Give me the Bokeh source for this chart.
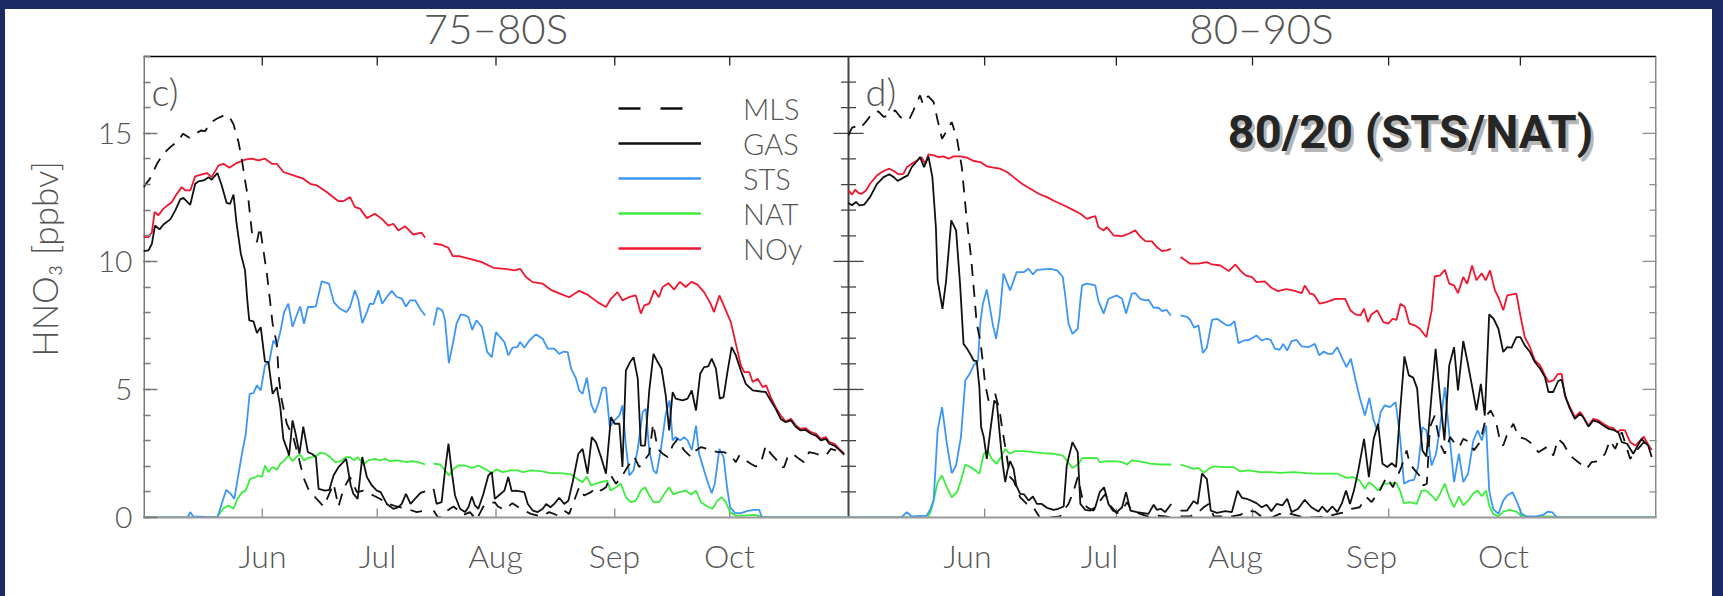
import math
import numpy as np
from bokeh.plotting import figure
from bokeh.models import (Range1d, LinearAxis, FixedTicker, SingleIntervalTicker,
                          Label, Legend, LegendItem, InlineStyleSheet)
from bokeh.layouts import row
from bokeh.embed import file_html
from bokeh.resources import INLINE

NAN = float("nan")

# ---------------- data ----------------
MONTH_DAYS = [31, 61, 92, 123, 153]          # days since 1 May
MONTH_LABELS = ["Jun", "Jul", "Aug", "Sep", "Oct"]
PANEL_TITLES = ["75–80S", "80–90S"]
PANEL_TAGS = ["c)", "d)"]
SERIES = ["MLS", "GAS", "STS", "NAT", "NOy"]
Y_LABEL = "HNO₃ [ppbv]"
NOTE = "80/20 (STS/NAT)"

# ---- left panel (75-80S)
L_NOY_D = [0, 1.3, 2.2, 2.9, 3.9, 5.2, 7.4, 8.7, 10, 10.9, 12.2, 13.5, 14.8, 16.5, 17.8, 19.6, 20.9, 22.4, 24.3, 26.5, 28.3, 30, 31.7, 33.5, 34.8, 36.5, 39.1, 41.7, 43.5, 45.2, 47.8, 50.9, 52.2, 53.9, 55.2, 56.5, 58.3, 60.4, 62.2, 63.9, 65.2, 66.5, 68.3, 70.4, 72.6, 73.5, 74.6, 75.7, 77.8, 79.6, 80.7, 82.6, 85.2, 88.3, 91.3, 94.2, 96.8, 98.3, 99.8, 101.6, 104.2, 106.3, 108.5, 111.1, 113.7, 115.9, 118.5, 120.7, 122, 123.7, 125, 126.8, 128.5, 129.8, 130.7, 132, 133.3, 134.5, 135.5, 137, 138.5, 140, 141.5, 143, 144.5, 146.3, 148, 148.9, 150.3, 151.6, 153.3, 154.6, 155.9, 156.8, 158.1, 159, 160.3, 161.6, 162.5, 163.7, 165, 166.3, 167.6, 169, 170.3, 171.5, 172.8, 174.2, 175.5, 176.8, 178.1, 179, 180.3, 181.6, 182.9]
L_NOY = [10.95, 10.95, 11.14, 11.93, 11.8, 12.06, 12.32, 12.64, 12.9, 12.77, 12.77, 13.32, 13.38, 13.45, 13.29, 13.75, 13.81, 13.66, 13.84, 13.97, 14.01, 13.94, 14.01, 13.81, 13.81, 13.49, 13.36, 13.23, 13.03, 12.97, 12.71, 12.35, 12.35, 12.51, 12.12, 12.06, 11.69, 11.86, 11.66, 11.4, 11.47, 11.21, 11.37, 11.05, 11.12, 10.92, NAN, 10.69, 10.65, 10.53, 10.21, 10.2, 10.1, 9.97, 9.75, 9.71, 9.65, 9.71, 9.39, 9.19, 9.13, 8.89, 8.75, 8.6, 8.85, 8.7, 8.41, 8.22, 8.54, 8.8, 8.48, 8.61, 8.67, 7.96, 8.28, 8.35, 8.87, 8.6, 9.0, 9.15, 8.9, 9.2, 9.0, 9.2, 9.1, 8.8, 8.35, 8.02, 8.67, 8.22, 7.63, 6.78, 5.94, 5.68, 5.68, 5.29, 5.42, 5.09, 5.16, 4.7, 4.31, 3.98, 3.75, 3.85, 3.59, 3.46, 3.49, 3.33, 3.27, 3.07, 3.14, 2.94, 2.88, 2.68, 2.49]

L_GAS_D = [0, 1.3, 2.2, 3, 4.2, 5.2, 7, 8.3, 9.6, 10.4, 12.2, 13.5, 14.3, 15.7, 17, 17.8, 19.3, 20.4, 21.7, 22.6, 23.5, 24.3, 25.4, 26.5, 27.1, 27.6, 28.7, 29.6, 30.6, 31.7, 32.6, 33.7, 34.8, 35.7, 36.5, 37.6, 38, 38.9, 39.7, 40.7, 41.7, 42.9, 43.9, 45, 45.7, 47.4, 48.5, 49.6, 50.9, 52.9, 54.1, 54.8, 55.9, 57.1, 58.3, 59.6, 60.9, 61.9, 63.5, 65.2, 66.5, 67.4, 68.5, 69.7, 71.1, 72.3, 73.5, 74.6, 75.7, 76.5, 77.8, 78.7, 79.6, 80.4, 81.3, 82.6, 83.9, 84.8, 85.7, 86.5, 87.4, 88.7, 90, 90.9, 91.7, 93, 94.2, 95.2, 96.1, 97.2, 99.4, 100.3, 101.6, 102.9, 104.2, 105.1, 106.2, 107.2, 108.5, 109.8, 110.9, 112, 113.5, 114.6, 115.9, 117, 118.1, 119.4, 120.7, 122, 123, 124.2, 125, 125.9, 127, 127.9, 129, 129.8, 130.9, 132, 133.1, 134.2, 135.2, 136.3, 137.2, 138.1, 138.9, 140.7, 142, 143.1, 144.2, 145.3, 146.3, 147.4, 148.3, 149.4, 150.4, 151.4, 152.4, 153.5, 154.6, 155.9, 157.2, 159, 161.1, 162.4, 163.7, 165, 166.3, 167.6, 169, 170.3, 171.5, 172.8, 174.2, 175.5, 176.8, 178.1, 179, 180.3, 181.6, 182.9]
L_GAS = [10.4, 10.43, 10.69, 11.4, 11.25, 11.44, 11.64, 11.99, 12.42, 12.48, 12.21, 13.03, 13.12, 13.16, 13.29, 13.19, 13.45, 12.97, 12.28, 12.25, 12.61, 11.47, 10.3, 9.65, 8.47, 7.7, 7.66, 7.2, 7.43, 6.09, 6.07, 4.83, 5.09, 4.31, 3.07, 2.62, 2.42, 3.79, 3.27, 2.49, 3.55, 2.55, 2.49, 2.36, 1.12, 1.05, 1.08, 1.64, 1.97, 2.29, 1.25, 0.92, 0.73, 2.36, 1.58, 1.25, 1.05, 0.99, 0.53, 0.34, 0.4, 0.53, 0.92, 0.53, 0.77, 0.96, 1.02, NAN, 1.12, 0.53, 0.6, 1.84, 2.88, 1.84, 0.86, 0.34, 0.21, 0.4, 0.82, 0.47, 0.34, 0.92, 1.64, 1.77, 0.73, 0.9, 1.05, 1.58, 1.03, 1.05, 0.99, 0.53, 0.27, 0.21, 0.34, 0.53, 0.4, 0.53, 0.77, 0.53, 0.66, 1.38, 2.49, 2.68, 1.71, 3.14, 2.94, 2.36, 1.71, 3.92, 3.66, 3.66, 1.97, 5.74, 6.07, 6.26, 5.42, 2.81, 2.81, 4.96, 6.39, 6.07, 5.81, 4.77, 3.4, 4.9, 4.64, 4.57, 4.64, 4.96, 4.18, 5.61, 5.87, 5.9, 6.2, 5.81, 4.64, 4.7, 5.68, 6.65, 6.33, 5.74, 5.22, 4.96, 4.92, 4.9, 4.57, 4.24, 3.85, 3.72, 3.79, 3.53, 3.4, 3.42, 3.27, 3.2, 3.01, 3.07, 2.88, 2.81, 2.64, 2.45]

L_STS_D = [0, 11.5, 12.2, 13, 19.3, 20.4, 21.6, 22.6, 23.7, 24.5, 25.7, 26.7, 27.7, 28.7, 29.6, 30.6, 31.7, 32.8, 33.9, 34.8, 35.7, 36.7, 37.8, 38.9, 39.8, 40.9, 41.9, 42.9, 44.2, 45, 46.5, 48.4, 49.7, 51.3, 53, 53.9, 55.2, 56.1, 57.1, 58.3, 59.1, 60, 61.3, 62.3, 63.5, 64.8, 66.1, 67.4, 68.5, 69.6, 70.9, 72.2, 73.5, 74.6, 75.7, 76.7, 78, 78.7, 79.7, 80.9, 81.7, 82.8, 83.9, 84.8, 85.8, 86.9, 88.3, 89.7, 90.9, 92, 93.1, 94.2, 95.2, 96.3, 97.5, 98.3, 99.4, 100.7, 102.4, 104.2, 105.5, 107.2, 108.5, 109.7, 110.7, 111.6, 112.9, 113.7, 114.6, 115.7, 116.8, 117.8, 118.7, 119.8, 120.7, 121.7, 122.9, 124.2, 125, 125.9, 126.8, 127.9, 129, 130.3, 131.1, 132, 133.1, 133.9, 135, 136.3, 137.3, 138.1, 138.9, 140.1, 141.1, 142, 143.1, 144.2, 145, 146.3, 147.4, 148.3, 149.1, 150.3, 151.4, 152.3, 153.1, 154.4, 155.9, 157.7, 159.4, 160.7, 161.3, 162.5, 184]
L_STS = [0, 0, 0.21, 0.04, 0.0, 0.53, 1.08, 0.95, 0.73, 1.44, 2.49, 3.27, 4.83, 4.86, 5.16, 4.96, 5.94, 6.07, 6.91, 6.72, 7.24, 8.02, 8.35, 7.44, 7.83, 8.24, 7.56, 8.22, 8.22, 8.24, 9.22, 9.13, 8.4, 8.15, 8.02, 8.22, 8.87, 8.48, 7.59, 8.02, 8.35, 8.33, 8.87, 8.35, 8.61, 8.85, 8.61, 8.55, 8.24, 8.48, 8.48, 8.15, 7.89, NAN, 7.5, 8.19, 8.09, 7.7, 6.03, 6.91, 7.57, 7.93, 7.89, 7.83, 7.33, 7.7, 7.44, 6.46, 6.26, 7.24, 7.04, 6.85, 6.33, 6.63, 6.65, 6.85, 6.63, 6.91, 7.15, 6.98, 6.59, 6.59, 6.39, 6.48, 6.46, 5.81, 5.42, 4.96, 4.83, 5.46, 4.44, 4.08, 4.44, 5.07, 5.07, 3.53, 3.79, 3.98, 4.38, 2.81, 1.64, 1.84, 2.68, 4.12, 4.24, 2.62, 1.84, 1.71, 2.62, 4.05, 4.57, 3.01, 3.14, 3.01, 3.14, 3.01, 2.64, 3.59, 2.49, 1.84, 1.32, 0.95, 1.32, 2.68, 2.36, 1.18, 0.4, 0.17, 0.17, 0.26, 0.3, 0.3, 0.04, 0, 0]

L_NAT_D = [0, 19, 19.6, 20.9, 22.2, 23.5, 24.5, 25.8, 26.7, 27.8, 28.9, 30, 30.9, 31.7, 32.6, 33.7, 34.8, 35.7, 36.8, 37.8, 38.9, 40, 40.9, 41.9, 43, 44.3, 45.2, 46.1, 47.4, 48.7, 50, 51.3, 52.9, 53.9, 55, 55.9, 57.4, 58.7, 60.4, 61.7, 63, 64.3, 66.1, 67.4, 68.7, 70, 71.7, 73.5, 74.6, 75.7, 77.4, 78.7, 79.7, 80.9, 82.2, 83.9, 85.7, 87.4, 89.1, 90.9, 92.1, 93.7, 95.9, 97.7, 99, 101.1, 103.7, 106.3, 109, 111.6, 113.5, 114.6, 115.7, 116.8, 118.1, 119.4, 121, 121.9, 123.3, 124.6, 125.9, 127.2, 128.5, 129.8, 130.9, 132, 133.1, 134.6, 135.9, 137.2, 138.3, 139.8, 141.6, 142.9, 144.2, 145.5, 147.2, 148.5, 149.8, 150.9, 152, 153.1, 154.6, 156.8, 159.4, 161.1, 162.5, 184]
L_NAT = [0, 0, 0.1, 0.36, 0.47, 0.34, 0.73, 0.99, 1.05, 1.51, 1.55, 1.64, 1.58, 2.03, 1.77, 1.97, 1.86, 2.1, 2.23, 2.42, 2.2, 2.38, 2.45, 2.23, 2.33, 2.36, 2.42, 2.53, 2.49, 2.36, 2.16, 2.19, 2.36, 2.36, 2.23, 2.36, 2.07, 2.23, 2.29, 2.23, 2.29, 2.2, 2.23, 2.2, 2.16, 2.2, 2.16, 2.07, NAN, 2.1, 2.07, 1.84, 1.64, 1.9, 2.03, 2.03, 1.94, 2.03, 1.9, 1.73, 1.88, 1.77, 1.84, 1.84, 1.77, 1.84, 1.81, 1.73, 1.73, 1.68, 1.47, 1.38, 1.6, 1.25, 1.32, 1.38, 1.44, 1.05, 1.18, 1.32, 0.79, 0.6, 0.66, 1.05, 1.18, 0.86, 0.6, 0.6, 0.92, 1.18, 0.9, 0.99, 1.05, 0.9, 1.05, 0.6, 0.43, 0.34, 0.66, 0.79, 0.6, 0.21, 0.07, 0.07, 0.1, 0.04, 0, 0]

L_MLS_D = [0, 1.7, 3.5, 5.2, 7, 9.1, 10.3, 12, 13.5, 15, 16.1, 17.4, 19.1, 20.7, 22.2, 23.5, 24.8, 25.7, 26.5, 27.4, 28.3, 29.6, 30.4, 31.3, 32.2, 33, 33.7, 34.8, 35.2, 35.4, 36.1, 37.4, 39.1, 40.9, 41.7, 43, 44.8, 47, 48.3, 49.6, 50.9, 52.2, 53.9, 55.7, 57.4, 60, 61.7, 63.9, 66.1, 68.7, 71.3, 73.5, 74.6, 75.7, 77, 78.7, 80.9, 83.5, 85.2, 86.9, 88.7, 90, 91.7, 92.5, 94.2, 96.3, 98.5, 101.1, 103.7, 105.9, 108.1, 109.8, 111.1, 112.4, 113.7, 115, 116.8, 118.1, 119.4, 120.7, 122, 123.3, 125, 126.3, 128.1, 129.4, 130.7, 132, 133, 134.2, 135.5, 136.8, 138.1, 139.4, 141.1, 142.9, 144.2, 145.5, 147.2, 148.5, 149.8, 151.6, 153.3, 154.6, 155.5, 157.2, 158.5, 159.8, 161.1, 162.4, 163.7, 165, 166.3, 167.2, 168.1, 169.4, 171.1, 172.4, 173.7, 175.5, 176.8, 178.1, 179.4, 180.7, 182]
L_MLS = [12.9, 13.23, 13.81, 14.2, 14.46, 14.72, 14.98, 14.83, 14.98, 15.11, 15.09, 15.4, 15.57, 15.68, 15.7, 15.35, 14.66, 13.94, 13.16, 12.38, 11.14, 10.75, 11.34, 10.43, 9.52, 8.5, 7.56, 6.78, 5.74, 5.35, 4.57, 3.66, 3.14, 2.1, 1.58, 1.12, 0.79, 0.43, 0.86, 1.32, 0.43, 1.12, 1.58, 0.99, 1.05, 0.86, 0.73, 0.53, 0.43, 0.34, 0.21, 0.27, NAN, 0.27, -0.03, 0.21, 0.43, 0.1, 0.21, -0.1, 0.43, 0.56, 0.59, 0.43, 0.3, 0.56, 0.34, 0.14, 0.04, 0.21, 0.08, 0.27, 0.14, 0.66, 1.18, 0.86, 0.99, 1.18, 1.05, 1.18, 1.64, 1.32, 1.64, 1.97, 2.36, 1.97, 2.23, 2.49, 3.66, 2.68, 2.49, 2.36, 2.81, 3.07, 2.62, 2.36, 2.62, 2.75, 2.68, 2.62, 2.55, 2.55, 2.42, 2.16, 2.42, 2.23, 2.1, 1.99, 2.1, 2.81, 2.49, 2.29, 1.97, 1.97, 2.36, 2.49, 2.29, 2.16, 2.55, 2.49, 2.42, 2.42, 2.68, 2.62, 2.42]

# ---- right panel (80-90S)
R_NOY_D = [0, 0.8, 1.5, 2.3, 3, 4, 4.9, 6.5, 8, 9.3, 10.3, 11.4, 12.5, 13.3, 14.4, 15.6, 16.6, 17.5, 18.2, 19.4, 20.5, 21.6, 22.8, 23.9, 25.4, 27, 28.5, 30, 31.5, 33, 34.5, 36.1, 37.6, 39.5, 41.4, 43.3, 45.2, 47.1, 49, 50.9, 52.8, 54.3, 55.4, 56.2, 56.9, 58.1, 58.8, 60.4, 62.3, 63.8, 65.3, 66.4, 67.6, 69.1, 70.2, 71.4, 72.5, 73.4, 74.5, 75.6, 76.7, 77.8, 79.7, 81.6, 82.8, 84.7, 86.6, 88.1, 89.2, 90.4, 91.9, 92.9, 94.8, 96.3, 97.8, 99.7, 101.6, 103.2, 103.9, 105.1, 106, 107.3, 108.8, 110.9, 113.1, 114.3, 115.4, 116.6, 117.4, 118.3, 119.1, 120.4, 121.8, 122.9, 123.9, 124.8, 125.7, 126.7, 127.7, 129, 130.1, 131.6, 132.8, 133.5, 134.7, 135.8, 136.8, 137.9, 138.8, 140, 140.9, 142, 143, 144.2, 145.1, 146.1, 147.2, 148, 149.1, 150, 152.1, 153, 154, 155.2, 156.3, 157.5, 158.6, 159.4, 160.5, 161.6, 162.4, 163.1, 164.3, 165.4, 166.6, 167.3, 168.5, 169.6, 170.8, 171.9, 173.1, 174.2, 175, 175.8, 176.8, 178, 179.2, 180.3, 181.1, 182.1, 182.9]
R_NOY = [12.77, 12.61, 12.8, 12.67, 12.64, 12.77, 13.03, 13.36, 13.53, 13.62, 13.53, 13.4, 13.42, 13.68, 13.81, 13.94, 14.07, 13.81, 14.18, 14.14, 14.07, 14.1, 14.01, 14.1, 14.1, 14.05, 13.92, 13.88, 13.71, 13.66, 13.62, 13.49, 13.29, 13.03, 12.84, 12.64, 12.51, 12.34, 12.19, 12.03, 11.86, 11.66, 11.73, 11.77, 11.34, 11.21, 11.34, 11.01, 10.99, 11.08, 11.21, 10.97, 10.79, 10.78, 10.56, 10.4, 10.43, 10.49, NAN, 10.17, 10.04, 9.91, 9.91, 9.97, 9.88, 9.84, 9.62, 9.88, 9.65, 9.45, 9.39, 9.19, 9.22, 8.97, 8.84, 8.92, 8.85, 8.76, 9.06, 8.74, 8.7, 8.35, 8.41, 8.54, 8.54, 8.09, 7.93, 7.89, 8.15, 7.63, 7.93, 8.09, 7.63, 7.57, 7.76, 7.72, 8.35, 8.22, 7.57, 7.5, 7.37, 7.04, 8.09, 9.41, 9.45, 9.67, 9.13, 9.06, 8.76, 9.39, 9.13, 9.84, 9.26, 9.54, 9.26, 9.65, 8.87, 8.6, 8.09, 8.67, 8.74, 7.89, 7.04, 6.65, 6.13, 5.94, 5.55, 5.29, 5.35, 5.61, 5.61, 4.77, 4.31, 3.92, 4.12, 3.95, 3.59, 3.85, 3.79, 3.66, 3.53, 3.49, 3.33, 3.42, 3.4, 2.94, 2.81, 3.01, 3.16, 2.85, 2.64]

R_GAS_D = [0, 0.8, 1.7, 2.5, 3.6, 4.9, 6.5, 8, 9.3, 10.3, 11.2, 12.5, 13.5, 14.4, 15.6, 16.3, 17.2, 18.2, 19.1, 19.9, 20.3, 21.4, 22.2, 23.4, 24.5, 25.4, 26.2, 27, 27.9, 28.5, 29.2, 29.8, 30.2, 30.8, 31.5, 32.3, 33.2, 33.8, 34.5, 35.1, 35.7, 36.2, 36.8, 37.6, 38.2, 39.1, 40, 41, 42, 42.9, 44, 45.2, 46.7, 47.8, 49, 49.7, 51, 52.2, 52.8, 53.9, 55.1, 56.2, 57.2, 58.2, 59.2, 60.2, 61.1, 62.3, 63.2, 64.2, 65.7, 67.2, 68.3, 69.5, 70.2, 71.1, 72.1, 73.5, 74.5, 75.6, 77.1, 78.6, 79.5, 80.5, 81.6, 82.5, 83.9, 85.8, 87.3, 88.6, 89.6, 90.7, 92.9, 94.1, 95.2, 96.3, 97.5, 98.8, 99.9, 100.9, 102.4, 103.9, 105.4, 107, 107.9, 109, 110.2, 111.3, 112.3, 113.3, 114.2, 115.1, 116.1, 117.4, 118.5, 119.6, 120.6, 121.6, 122.7, 123.7, 124.7, 125.6, 126.6, 127.6, 128.6, 129.5, 130.1, 130.7, 131.6, 132.8, 133.7, 134.7, 135.7, 136.8, 137.9, 138.8, 140, 140.9, 141.9, 143, 144, 144.9, 145.9, 146.9, 148, 149.1, 150, 151, 152.1, 153, 154, 155.2, 156.3, 157.5, 158.6, 159.4, 160.5, 161.6, 162.4, 163.4, 164.3, 165.4, 166.6, 167.3, 168.5, 169.6, 170.8, 171.9, 173.1, 174.2, 175.3, 176.1, 177.3, 178.7, 180.6, 182.1, 182.9]
R_GAS = [12.28, 12.19, 12.32, 12.19, 12.22, 12.51, 13.03, 13.29, 13.4, 13.29, 13.14, 13.27, 13.36, 13.68, 13.92, 14.07, 13.68, 14.1, 13.29, 11.34, 9.26, 8.15, 9.2, 11.6, 11.21, 9.13, 6.78, 6.59, 6.33, 6.13, 6.11, 5.09, 3.53, 3.14, 2.29, 3.4, 4.57, 4.44, 3.14, 2.1, 1.38, 1.84, 2.2, 1.9, 1.25, 0.92, 0.9, 0.66, 0.82, 0.53, 0.53, 0.38, 0.3, 0.34, 0.43, 2.03, 2.94, 2.55, 0.53, 0.3, 0.27, 0.4, 0.99, 1.18, 0.53, 0.27, 0.21, 0.4, 0.99, 0.27, 0.21, 0.17, 0.14, 0.5, 0.3, 0.34, 0.21, 0.53, NAN, 0.27, 0.27, 0.64, 0.53, 1.71, 1.51, 0.27, 0.18, 0.25, 0.21, 1.05, 0.77, 0.73, 0.56, 0.4, 0.5, 0.25, 0.53, 0.47, 0.73, 0.21, 0.34, 0.69, 0.4, 0.23, 0.43, 0.21, 0.43, 0.21, 0.53, 1.05, 0.53, 1.05, 1.84, 3.07, 1.58, 3.07, 3.66, 2.1, 1.97, 2.12, 1.97, 4.12, 6.29, 5.55, 5.46, 5.03, 3.66, 2.62, 2.38, 4.83, 6.59, 4.7, 3.01, 5.94, 6.65, 4.96, 6.89, 6.13, 5.22, 4.18, 5.22, 3.98, 7.93, 7.76, 7.37, 6.46, 6.65, 6.63, 7.04, 7.04, 6.72, 6.46, 6.07, 5.81, 5.48, 4.9, 4.9, 5.33, 5.38, 4.64, 4.24, 3.85, 4.05, 3.92, 3.55, 3.79, 3.72, 3.59, 3.46, 3.42, 3.33, 2.94, 2.88, 2.49, 3.07, 2.81, 2.36]

R_STS_D = [0, 12, 13.3, 14.4, 17.8, 18.6, 19.4, 20.3, 21.3, 22.4, 23.5, 24.5, 25.6, 26.6, 27.6, 28.5, 29.5, 30, 30.6, 31.5, 32.9, 33.6, 34.4, 35.3, 36.8, 38.3, 39.9, 41, 42, 42.9, 44.4, 45.9, 47.5, 48.8, 49.4, 50.1, 51, 52.2, 52.8, 53.2, 54.3, 56.2, 56.9, 58.1, 59.2, 61.1, 62.3, 63.2, 64.5, 65.3, 66.4, 67.6, 68.3, 69.5, 70.6, 71.4, 72.4, 73.4, 74.5, 75.6, 77.1, 77.8, 78.7, 79.7, 80.7, 81.6, 82.8, 83.9, 85, 86.2, 86.9, 87.9, 88.8, 90, 91.3, 92.9, 94.1, 95.2, 96.1, 97.1, 98.2, 99, 99.9, 100.9, 102, 103.2, 104.7, 106.2, 107.2, 108.2, 109.2, 110.2, 111.3, 112.3, 113.4, 114.4, 115.5, 116.4, 117.6, 118.6, 119.5, 120.4, 121.2, 122.1, 123.3, 124.6, 125.6, 126.5, 127.7, 128.8, 129.7, 130.7, 131.6, 132.8, 133.8, 134.7, 135.8, 136.8, 137.9, 139, 140, 141.1, 142.3, 143.3, 144.2, 145.2, 145.9, 146.8, 148, 149.1, 150, 151.2, 152.1, 153.3, 154.4, 156.7, 158.2, 159.3, 160.3, 161.1, 162, 184]
R_STS = [0, 0, 0.21, 0.04, 0.07, 0.3, 0.69, 3.4, 4.31, 2.88, 1.73, 2.03, 3.14, 5.35, 5.61, 5.94, 6.13, 7.57, 8.35, 8.9, 7.5, 6.98, 7.83, 9.52, 8.87, 9.58, 9.58, 9.71, 9.49, 9.67, 9.69, 9.71, 9.65, 9.39, 8.6, 7.57, 7.17, 7.37, 8.48, 9.06, 9.13, 9.06, 8.47, 7.96, 8.54, 8.67, 8.54, 7.96, 8.74, 8.76, 8.54, 8.48, 8.5, 8.19, 8.19, 8.06, 8.11, 7.89, NAN, 7.89, 7.83, 7.72, 7.41, 7.5, 6.42, 6.63, 7.72, 7.76, 7.63, 7.5, 7.5, 7.67, 6.81, 6.91, 6.94, 7.11, 6.91, 6.98, 6.94, 6.59, 6.55, 6.78, 6.52, 6.89, 6.94, 6.68, 6.65, 6.78, 6.33, 6.48, 6.39, 6.39, 6.65, 6.26, 5.87, 6.2, 5.35, 4.7, 3.98, 4.67, 3.85, 3.4, 4.12, 4.38, 4.31, 4.5, 3.14, 1.32, 1.44, 1.47, 1.97, 3.53, 3.4, 2.03, 2.49, 3.53, 5.09, 3.27, 1.38, 2.49, 1.38, 1.71, 3.01, 3.4, 3.01, 3.59, 1.05, 0.34, 0.14, 0.66, 0.86, 0.99, 0.66, 0.14, 0.04, 0.04, 0.1, 0.23, 0.2, 0.04, 0, 0]

R_NAT_D = [0, 18, 18.6, 19.4, 20.3, 21.3, 22.4, 23.5, 24.7, 25.6, 26.6, 27.7, 28.9, 29.8, 30.8, 31.7, 32.6, 33.8, 34.7, 35.7, 36.7, 38, 39.9, 42.1, 44.4, 46.7, 48.8, 50, 51, 52.4, 53.2, 55, 56.6, 57.3, 58.8, 61.1, 62.3, 63.4, 64.5, 65.7, 67.2, 68.7, 71, 73.5, 74.5, 75.6, 77.1, 78.6, 79.7, 80.9, 82, 83.2, 85.4, 87.7, 89.2, 91.1, 93.7, 95.9, 98.2, 101.3, 104.3, 106.6, 109.2, 111.3, 113.4, 114.9, 116.4, 117.6, 118.5, 119.5, 120.6, 121.8, 123.3, 124.8, 125.6, 126.5, 127.8, 129.4, 130.5, 131.6, 132.8, 133.8, 134.7, 135.8, 136.8, 137.9, 139, 140, 141.1, 142.3, 143.3, 144.2, 145.2, 145.9, 146.8, 148, 149.1, 150.6, 152.1, 153.3, 155.2, 159.7, 161, 184]
R_NAT = [0, 0, 0.17, 0.66, 1.38, 1.64, 1.18, 0.79, 0.99, 1.44, 2.07, 1.97, 1.84, 1.71, 2.49, 2.62, 2.29, 2.1, 2.36, 2.68, 2.49, 2.59, 2.59, 2.55, 2.51, 2.49, 2.42, 2.16, 1.93, 2.1, 2.32, 2.33, 2.32, 2.16, 2.2, 2.19, 2.16, 2.07, 2.23, 2.2, 2.16, 2.1, 2.07, 2.07, NAN, 2.07, 1.99, 1.9, 1.94, 1.74, 1.9, 2.0, 1.97, 1.97, 1.8, 1.84, 1.77, 1.77, 1.74, 1.77, 1.73, 1.71, 1.71, 1.71, 1.55, 1.58, 1.44, 1.12, 1.38, 1.25, 1.05, 1.32, 1.32, 1.34, 1.05, 0.56, 0.6, 0.53, 1.05, 1.05, 0.86, 0.66, 0.92, 1.32, 0.79, 0.4, 0.82, 0.47, 0.66, 0.95, 1.05, 0.83, 1.05, 0.47, 0.14, 0.04, 0.23, 0.3, 0.23, 0.07, 0.01, 0.04, 0, 0]

R_MLS_D = [0, 0.8, 1.7, 2.5, 3.7, 4.8, 5.7, 6.8, 8, 9.3, 10.6, 11.8, 12.9, 13.9, 14.8, 15.6, 16.3, 16.9, 17.7, 18.2, 19.4, 20.3, 21.3, 22.4, 23.5, 24.7, 25.3, 25.8, 26.3, 26.8, 27.3, 27.9, 28.5, 29.2, 30, 30.6, 31.1, 31.9, 33.4, 34.4, 34.9, 35.7, 36.8, 37.6, 39.1, 40.6, 42.1, 43.7, 46, 48.2, 49.1, 50.1, 51.3, 52.2, 53.2, 54.3, 55.8, 57.3, 58.5, 59.6, 61.1, 62.3, 63.4, 64.5, 66.4, 68.7, 70.6, 72.1, 73.5, 74.5, 75.6, 77.8, 79.7, 80.9, 82, 83.2, 85.4, 87.3, 89.2, 90.7, 92.6, 93.7, 95.9, 98.2, 100.1, 102.8, 105.8, 108.9, 111.3, 113, 114.6, 116.4, 118, 119.1, 121, 122.5, 124, 124.9, 125.9, 127.1, 127.8, 129, 130, 130.9, 131.7, 132.4, 133.5, 134.7, 135.8, 137, 137.9, 139.1, 140, 141.5, 142.4, 143.8, 145.3, 146.2, 147.4, 148.5, 149.1, 149.9, 151.4, 152.6, 154.1, 155.2, 157.1, 159, 160.5, 161.6, 162.8, 164.3, 166.2, 168.1, 169.2, 170.8, 172.3, 173.4, 174.6, 176.1, 178, 179.5, 181.1, 182.6]
R_MLS = [14.92, 15.22, 15.27, 15.18, 15.4, 15.64, 15.83, 15.86, 15.64, 15.7, 15.9, 15.64, 15.51, 15.57, 15.9, 16.22, 16.48, 16.16, 16.42, 16.44, 16.22, 15.51, 14.79, 15.1, 15.44, 14.79, 14.2, 13.68, 12.77, 11.86, 11.08, 10.17, 9.0, 7.57, 6.91, 6.07, 5.22, 4.57, 4.83, 4.18, 3.59, 2.75, 1.58, 1.44, 0.79, 0.53, 0.4, -0.04, 0.0, 0.04, 0.3, 0.53, 1.05, 1.58, 0.79, 0.4, 0.27, 0.66, 0.92, 0.47, 0.17, 0.27, 0.6, 0.27, 0.14, 0.01, 0.07, 0.04, 0, NAN, 0.04, 0.04, 0.21, 0.4, 0.53, 0.04, 0.04, 0.04, 0.1, 0.27, 0.23, 0.08, -0.03, 0.14, 0.17, 0.04, 0, 0.04, 0.14, 0.21, 0.34, 0.4, 0.79, 0.6, 1.05, 1.58, 1.18, 1.58, 1.97, 2.62, 2.1, 1.84, 1.64, 1.25, 1.32, 3.53, 3.98, 2.88, 2.49, 3.14, 2.94, 2.75, 3.07, 2.94, 2.62, 2.94, 3.98, 4.18, 3.79, 2.88, 2.81, 3.2, 3.66, 3.14, 3.07, 2.94, 2.55, 2.75, 2.42, 3.07, 2.88, 2.42, 2.16, 1.9, 2.16, 2.2, 2.49, 3.01, 2.68, 3.33, 2.29, 2.62, 2.94, 2.75]

# ---------------- styling / layout ----------------
NAVY = "#1c2a64"
COLORS = {"MLS": "#111111", "GAS": "#111111", "STS": "#3d96f5", "NAT": "#3ded3d", "NOy": "#f0162f"}
DASHES = {"MLS": "12 9", "GAS": "solid", "STS": "solid", "NAT": "solid", "NOy": "solid"}
GRAY_TXT = "#555555"
THIN = "Lato Light"

NAVY_TOP, PAD_L, PAD_R = 9, 5, 11       # navy frame around the white sheet
FIG_W, FIG_H = 1707, 596
B_L, B_R, B_T, B_B = 138, 56, 56, 79    # plot box offsets inside the figure (px)
W1 = 705                                  # left panel width (px)
W2 = FIG_W - B_L - B_R - W1               # right panel width (px)
NDAYS = 184
YMAX = 18
PX_PER_UNIT = (FIG_H - B_T - B_B) / YMAX
YTOP = YMAX + B_T / PX_PER_UNIT           # data frame reaches the top of the sheet
XMAX = NDAYS * (W1 + W2) / W1


def page_y(py):
    """page pixel row -> data y"""
    return YMAX - (py - B_T) / PX_PER_UNIT


def mid_y(baseline_py, font_px):
    """data y of the middle of a text whose baseline sits at page row baseline_py"""
    return page_y(baseline_py - 0.36 * font_px)


p = figure(width=FIG_W, height=FIG_H, output_backend="svg", toolbar_location=None, title=None,
           x_range=Range1d(0, XMAX), y_range=Range1d(0, YTOP),
           x_axis_type=None, y_axis_type=None,
           min_border_left=B_L, min_border_right=B_R, min_border_top=0, min_border_bottom=B_B,
           styles={"background-color": "white"})
p.extra_x_ranges = {"p2": Range1d(-NDAYS * W1 / W2, NDAYS), "px": Range1d(0, W1 + W2)}
p.grid.visible = False
p.outline_line_color = None
p.background_fill_color = "white"
p.border_fill_color = None

# left axis (labels + ticks; spine drawn as a segment)
yl = LinearAxis(ticker=SingleIntervalTicker(interval=5, num_minor_ticks=5), axis_label=Y_LABEL,
                bounds=(0, YMAX))
yl.major_tick_in, yl.major_tick_out, yl.minor_tick_in, yl.minor_tick_out = 14, 0, 7, 0
yl.axis_line_color = None
yl.major_tick_line_color = yl.minor_tick_line_color = "#7a7a7a"
yl.major_tick_line_width = yl.minor_tick_line_width = 1.3
yl.major_label_text_font = THIN
yl.major_label_text_font_size = "30px"
yl.major_label_text_color = GRAY_TXT
yl.major_label_standoff = 11
yl.axis_label_text_font = THIN
yl.axis_label_text_font_size = "35px"
yl.axis_label_text_font_style = "normal"
yl.axis_label_text_color = GRAY_TXT
yl.axis_label_standoff = 30
p.add_layout(yl, "left")

# bottom axis: month labels (right panel labels sit a little left of their ticks)
LABEL_SHIFT_PX = [0, -17]
lab_pos, lab_over = [], {}
for k, (w0, w) in enumerate([(0, W1), (W1, W2)]):
    for d, lab in zip(MONTH_DAYS, MONTH_LABELS):
        xpx = int(round(w0 + d * w / NDAYS + LABEL_SHIFT_PX[k]))
        lab_pos.append(xpx)
        lab_over[xpx] = lab
xb = LinearAxis(x_range_name="px", ticker=FixedTicker(ticks=lab_pos), major_label_overrides=lab_over)
xb.major_tick_in = xb.major_tick_out = xb.minor_tick_in = xb.minor_tick_out = 0
xb.axis_line_color = "#999999"
xb.axis_line_width = 2
xb.major_label_text_font = THIN
xb.major_label_text_font_size = "32px"
xb.major_label_text_color = GRAY_TXT
xb.major_label_standoff = 18
p.add_layout(xb, "below")

# spines: top, left, divider, right
TICK_X = 9 / PX_PER_UNIT
p.segment(x0=[0], y0=[YMAX], x1=[XMAX], y1=[YMAX], line_color="black", line_width=1.5)
p.segment(x0=[0], y0=[0], x1=[0], y1=[YMAX], line_color="#7a7a7a", line_width=3)
p.segment(x0=[NDAYS], y0=[0], x1=[NDAYS], y1=[YMAX], line_color="#444444", line_width=2)
p.segment(x0=[XMAX], y0=[0], x1=[XMAX], y1=[YMAX], line_color="#8c8c8c", line_width=3)

# month tick marks (top & bottom) for both panels
for rng in ["default", "p2"]:
    n = len(MONTH_DAYS)
    p.segment(x0=MONTH_DAYS, y0=[0] * n, x1=MONTH_DAYS, y1=[TICK_X] * n,
              line_color="#888888", line_width=1.3, x_range_name=rng)
    p.segment(x0=MONTH_DAYS, y0=[YMAX] * n, x1=MONTH_DAYS, y1=[YMAX - TICK_X] * n,
              line_color="#222222", line_width=1.3, x_range_name=rng)

# ticks on the panel divider (both directions) and on the right spine (inward)
maj = [v for v in range(1, YMAX + 1) if v % 5 == 0]
mnr = [v for v in range(1, YMAX) if v % 5 != 0]
p.scatter(x=[NDAYS] * len(maj), y=maj, marker="dash", size=30, line_color="#444444", line_width=1.3)
p.scatter(x=[NDAYS] * len(mnr), y=mnr, marker="dash", size=15, line_color="#444444", line_width=1.3)
p.scatter(x=[XMAX] * len(maj), y=maj, marker="dash", size=28, line_color="#8c8c8c", line_width=1.3)
p.scatter(x=[XMAX] * len(mnr), y=mnr, marker="dash", size=14, line_color="#8c8c8c", line_width=1.3)

# data lines
panels = [
    ("default", {"MLS": (L_MLS_D, L_MLS), "GAS": (L_GAS_D, L_GAS), "STS": (L_STS_D, L_STS),
                 "NAT": (L_NAT_D, L_NAT), "NOy": (L_NOY_D, L_NOY)}),
    ("p2", {"MLS": (R_MLS_D, R_MLS), "GAS": (R_GAS_D, R_GAS), "STS": (R_STS_D, R_STS),
            "NAT": (R_NAT_D, R_NAT), "NOy": (R_NOY_D, R_NOY)}),
]
DRAW_ORDER = ["NAT", "STS", "NOy", "MLS", "GAS"]
for rng, data in panels:
    for name in DRAW_ORDER:
        xs, ys = data[name]
        p.line(x=np.array(xs, dtype=float), y=np.array(ys, dtype=float), x_range_name=rng,
               line_color=COLORS[name], line_width=1.8, line_dash=DASHES[name])

# legend (left panel): one row per Legend so the rows can sit 35 px apart
LEG_DASH = {"MLS": "22 20", "GAS": "solid", "STS": "solid", "NAT": "solid", "NOy": "solid"}
LEG_X = 475
LEG_ROW_PX = [108, 143, 178, 213, 248]   # row centres, page px
ROW_H = 46
FRAME_BOTTOM_PAGE = FIG_H - B_B
for name, cy in zip(SERIES, LEG_ROW_PX):
    r = p.line(x=[NAN, NAN], y=[NAN, NAN], line_color=COLORS[name], line_width=2.6,
               line_dash=LEG_DASH[name])
    lg = Legend(items=[LegendItem(label=name, renderers=[r])],
                location=(LEG_X, FRAME_BOTTOM_PAGE - cy - ROW_H / 2), orientation="vertical",
                glyph_width=83, glyph_height=ROW_H, label_height=ROW_H, label_standoff=42,
                spacing=0, padding=0, margin=0, border_line_color=None, background_fill_alpha=0,
                label_text_font=THIN, label_text_font_size="29px", label_text_color=GRAY_TXT)
    p.add_layout(lg)

# panel titles and tags
TITLE_FS = 42
p.add_layout(Label(x=NDAYS / 2, y=mid_y(43, TITLE_FS), text=PANEL_TITLES[0], text_align="center",
                   text_baseline="middle", text_font=THIN, text_font_size=f"{TITLE_FS}px",
                   text_color=GRAY_TXT))
p.add_layout(Label(x=NDAYS / 2 + 9 * NDAYS / W2, y=mid_y(43, TITLE_FS), x_range_name="p2",
                   text=PANEL_TITLES[1], text_align="center", text_baseline="middle",
                   text_font=THIN, text_font_size=f"{TITLE_FS}px", text_color=GRAY_TXT))
p.add_layout(Label(x=8 * NDAYS / W1, y=mid_y(104, 38), text=PANEL_TAGS[0], text_align="left",
                   text_baseline="middle", text_font=THIN, text_font_size="38px",
                   text_color=GRAY_TXT))
p.add_layout(Label(x=17 * NDAYS / W2, y=mid_y(104, 38), x_range_name="p2", text=PANEL_TAGS[1],
                   text_align="left", text_baseline="middle", text_font=THIN,
                   text_font_size="38px", text_color=GRAY_TXT))

# bold note with soft shadow
NOTE_X = (1410 - (PAD_L + B_L + W1)) * NDAYS / W2
NOTE_Y = mid_y(148, 47)
p.add_layout(Label(x=NOTE_X, y=NOTE_Y, x_range_name="p2", text=NOTE, text_align="center",
                   text_baseline="middle", text_font="Roboto", text_font_style="bold",
                   text_font_size="47px", text_color="#777777", text_alpha=0.55,
                   x_offset=3, y_offset=-4))
p.add_layout(Label(x=NOTE_X, y=NOTE_Y, x_range_name="p2", text=NOTE, text_align="center",
                   text_baseline="middle", text_font="Roboto", text_font_style="bold",
                   text_font_size="47px", text_color="#262626"))

# page dressing: navy bar over the top of the sheet, and white masks over the plot-box
# edges above the top spine
FRAME_L_PAGE = PAD_L + B_L
FRAME_R_PAGE = FRAME_L_PAGE + W1 + W2
MASK = 5
top_css = (
    ":host::after { content: ''; position: absolute; left: 0; top: 0; right: 0; "
    f"height: {NAVY_TOP}px; background: {NAVY}; z-index: 1000; pointer-events: none; }}\n"
    ":host::before { content: ''; position: absolute; box-sizing: border-box; "
    f"left: {FRAME_L_PAGE - 3}px; top: {NAVY_TOP}px; "
    f"width: {FRAME_R_PAGE - FRAME_L_PAGE + 7}px; height: {B_T - NAVY_TOP - 2}px; "
    f"border-left: {MASK}px solid white; border-right: {MASK}px solid white; "
    "background: transparent; z-index: 999; pointer-events: none; }"
)
layout = row(p, styles={"background-color": NAVY, "padding": f"0px {PAD_R}px 0px {PAD_L}px"},
             stylesheets=[InlineStyleSheet(css=top_css)])

open("out.html", "w").write(file_html(layout, INLINE))
